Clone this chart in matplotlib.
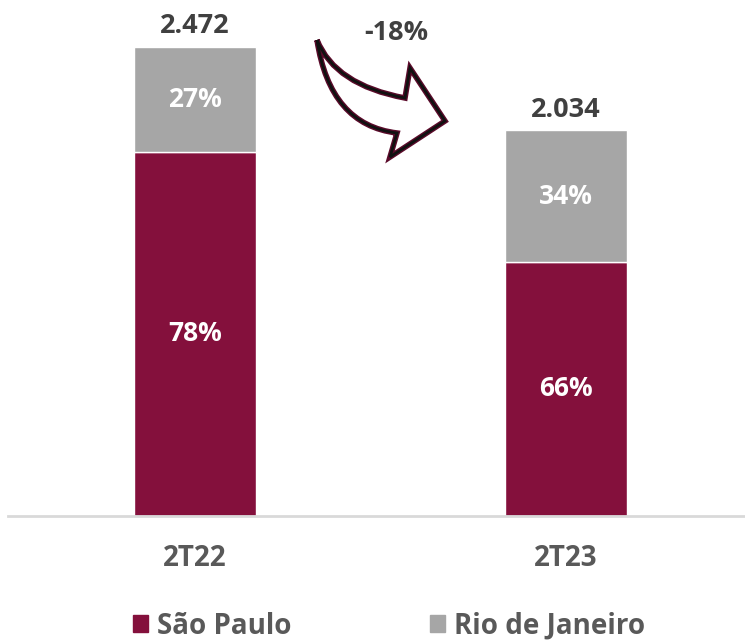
import matplotlib
matplotlib.use("Agg")
import matplotlib.pyplot as plt
from matplotlib.patches import Patch, PathPatch
from matplotlib.path import Path

categories = ["2T22", "2T23"]
totals = [2.472, 2.034]
total_labels = ["2.472", "2.034"]
sao_paulo = [1.919, 1.339]
rio = [0.553, 0.695]
sp_labels = ["78%", "66%"]
rio_labels = ["27%", "34%"]
change_label = "-18%"

maroon = "#84103C"
grey = "#A6A6A6"
dark = "#404040"
plt.rcParams["font.family"] = ["Open Sans", "DejaVu Sans"]
plt.rcParams["font.weight"] = "bold"

fig = plt.figure(figsize=(7.45, 6.4), dpi=100)
ax = fig.add_axes([8 / 745, (640 - 516) / 640, 737 / 745, 516 / 640])
x = [0, 1]
w = 122 / 371
ax.bar(x, sao_paulo, w, color=maroon, edgecolor="white", linewidth=1)
ax.bar(x, rio, w, bottom=sao_paulo, color=grey, edgecolor="white", linewidth=1)

for i in range(2):
    ax.text(x[i], sao_paulo[i] / 2, sp_labels[i], ha="center", va="center",
            color="white", fontsize=19, fontweight="bold")
    ax.text(x[i], sao_paulo[i] + rio[i] / 2, rio_labels[i], ha="center", va="center",
            color="white", fontsize=19, fontweight="bold")
    ax.text(x[i], totals[i] + 0.04, total_labels[i], ha="center", va="bottom",
            color=dark, fontsize=19.5, fontweight="bold")

ax.set_xlim(-187 / 371, 1 + 179 / 371)
ax.set_ylim(0, 516 / 189.7)
for s in ["top", "right", "left"]:
    ax.spines[s].set_visible(False)
ax.spines["bottom"].set_color("#D9D9D9")
ax.spines["bottom"].set_linewidth(2)
ax.set_yticks([])
ax.set_xticks(x)
ax.set_xticklabels(categories, fontsize=20, fontweight="bold", color="#595959")
ax.tick_params(axis="x", length=0, pad=20)

# curved block arrow (figure pixel coords, y measured from top)
pts = [(317, 40), (335, 85), (405, 98), (410, 68), (445, 121), (390, 157),
       (397, 133), (330, 125), (317, 40)]
codes = [Path.MOVETO, Path.CURVE3, Path.CURVE3, Path.LINETO, Path.LINETO,
         Path.LINETO, Path.LINETO, Path.CURVE3, Path.CURVE3]
verts = [(px / 745, (640 - py) / 640) for px, py in pts]
arrow = PathPatch(Path(verts, codes), facecolor="white", edgecolor="#5a0a2a",
                  linewidth=4, transform=fig.transFigure, joinstyle="miter")
fig.patches.append(arrow)
arrow2 = PathPatch(Path(verts, codes), facecolor="none", edgecolor="#111111",
                   linewidth=2, transform=fig.transFigure, joinstyle="miter")
fig.patches.append(arrow2)
fig.text(396 / 745, 1 - 33 / 640, change_label, ha="center", va="center",
         color=dark, fontsize=19.5, fontweight="bold")

handles = [Patch(color=maroon), Patch(color=grey)]
fig.legend(handles, ["São Paulo", "Rio de Janeiro"], loc="center",
           bbox_to_anchor=(389 / 745, 1 - 626 / 640), ncol=2, frameon=False,
           handlelength=0.55, handleheight=0.55, handletextpad=0.3,
           columnspacing=5.0, prop={"size": 20, "weight": "bold"},
           labelcolor="#595959")

fig.savefig("out.png", dpi=100)
